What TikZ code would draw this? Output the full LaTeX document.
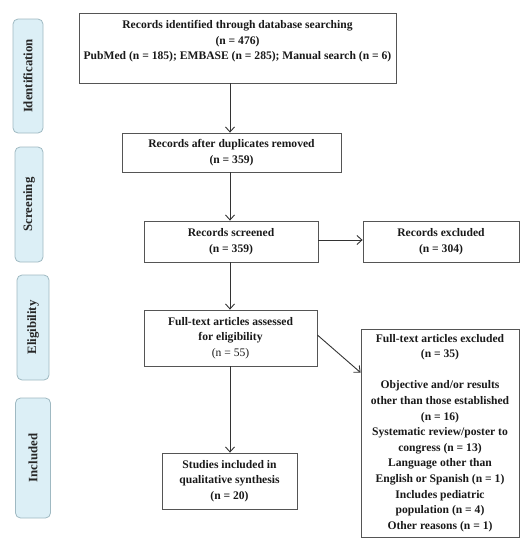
\documentclass[tikz,border=0pt]{standalone}
\usepackage{fontspec}
\setmainfont{Liberation Serif}
\usetikzlibrary{arrows.meta,calc}
\definecolor{phasefill}{HTML}{DCEFF6}
\definecolor{phasedraw}{HTML}{9FB9C2}
\definecolor{boxdraw}{HTML}{555555}
\definecolor{linecol}{HTML}{333333}
\tikzset{
  phase/.style={draw=phasedraw, fill=phasefill, rounded corners=5pt, line width=0.8pt, inner sep=0pt},
  phaselabel/.style={rotate=90, font=\fontsize{12.8}{14}\selectfont\bfseries, text=black!85},
  box/.style={draw=boxdraw, line width=0.8pt, inner sep=2pt, align=center, font=\fontsize{11.6}{15.6}\selectfont\bfseries, text=black!90},
  arr/.style={draw=linecol, line width=0.9pt, -{Straight Barb[length=5pt,width=9pt,line width=0.9pt]}}
}
\begin{document}
\begin{tikzpicture}[x=1pt,y=-1pt]
\useasboundingbox (0,0) rectangle (530,550);
% phases
\node[phase, minimum width=30pt, minimum height=114pt] (pid) at (28,76) {};
\node[phaselabel] (lid) at (pid.center) {Identification};
\node[phase, minimum width=28pt, minimum height=115pt] (pscr) at (29,204.5) {};
\node[phaselabel] (lscr) at (pscr.center) {Screening};
\node[phase, minimum width=32pt, minimum height=105pt] (pel) at (33,327.5) {};
\node[phaselabel] (lel) at (pel.center) {Eligibility};
\node[phase, minimum width=35pt, minimum height=120pt] (pin) at (33,458) {};
\node[phaselabel] (lin) at (pin.center) {Included};
% boxes
\node[box, minimum width=317pt, minimum height=70pt] (b1) at (237.5,48)
  {Records identified through database searching\\(n = 476)\\PubMed (n = 185); EMBASE (n = 285); Manual search (n = 6)\\\mbox{}};
\node[box, minimum width=219pt, minimum height=39pt] (b2) at (231.5,152.5)
  {Records after duplicates removed\\(n = 359)};
\node[box, minimum width=174pt, minimum height=41pt] (b3) at (231,241.5)
  {Records screened\\(n = 359)};
\node[box, minimum width=156pt, minimum height=41pt] (rex) at (441,241.5)
  {Records excluded\\(n = 304)};
\node[box, minimum width=173pt, minimum height=56pt] (b4) at (230.5,338)
  {Full-text articles assessed\\for eligibility\\{\mdseries(n = 55)}};
\node[box, minimum width=158pt, minimum height=208pt] (fex) at (440,433)
  {Full-text articles excluded\\(n = 35)\\\mbox{}\\Objective and/or results\\other than those established\\(n = 16)\\Systematic review/poster to\\congress (n = 13)\\Language other than\\English or Spanish (n = 1)\\Includes pediatric\\population (n = 4)\\Other reasons (n = 1)};
\node[box, minimum width=135pt, minimum height=56pt] (inc) at (229.5,481)
  {Studies included in\\qualitative synthesis\\(n = 20)};
% connectors
\coordinate (col) at (230,0);
\draw[arr] (b1.south -| col) -- (b2.north -| col);
\draw[arr] (b2.south -| col) -- (b3.north -| col);
\draw[arr] (b3.south -| col) -- (b4.north -| col);
\draw[arr] (b4.south -| col) -- (inc.north -| col);
\draw[arr] ([yshift=1.5pt]b3.east) -- ([yshift=1.5pt]rex.west);
\draw[arr] ([yshift=3pt]b4.east) -- ([yshift=-44pt]fex.north west);
\end{tikzpicture}
\end{document}
